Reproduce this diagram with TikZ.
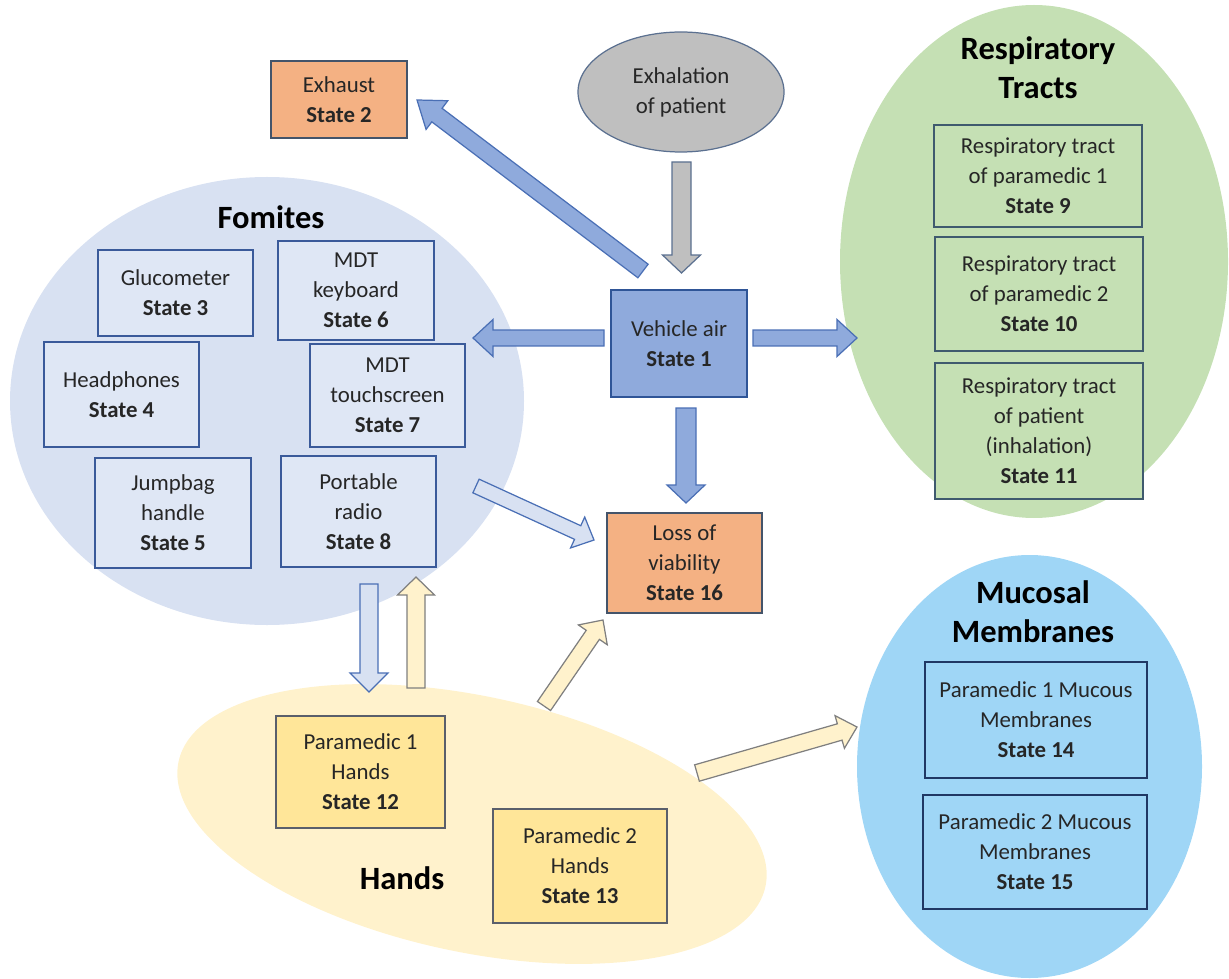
\documentclass[tikz,border=0pt]{standalone}
\usepackage{fontspec}
\setmainfont{Carlito}
\usetikzlibrary{calc,shapes.geometric}
\definecolor{fomfill}{HTML}{D8E1F2}
\definecolor{fomboxfill}{HTML}{DFE7F5}
\definecolor{fomline}{HTML}{3A5A9A}
\definecolor{respfill}{HTML}{C5E0B4}
\definecolor{respline}{HTML}{3F5A6E}
\definecolor{mucfill}{HTML}{9FD6F6}
\definecolor{mucline}{HTML}{203864}
\definecolor{handfill}{HTML}{FFF2CC}
\definecolor{handbox}{HTML}{FFE699}
\definecolor{handline}{HTML}{5A5F6B}
\definecolor{orangefill}{HTML}{F4B183}
\definecolor{orangeline}{HTML}{44546A}
\definecolor{airfill}{HTML}{8FAADC}
\definecolor{airline}{HTML}{2F5597}
\definecolor{grayfill}{HTML}{BFBFBF}
\definecolor{grayline}{HTML}{5B7090}
\definecolor{arrline}{HTML}{4A6FB5}
\definecolor{yarrline}{HTML}{7F7F7F}
\definecolor{txt}{HTML}{262626}
\newcommand\blockarrow[6]{%
  \coordinate (bahead) at ($(#3)!#6!(#2)$);
  \draw[#1] ($(#2)!#4!90:(#3)$) -- ($(bahead)!#4!90:(#3)$) -- ($(bahead)!#5!90:(#3)$) -- (#3)
    -- ($(bahead)!#5!-90:(#3)$) -- ($(bahead)!#4!-90:(#3)$) -- ($(#2)!#4!-90:(#3)$) -- cycle;
}
\begin{document}
\begin{tikzpicture}[x=0.02cm,y=-0.02cm,
  wh/.style 2 args={minimum width=#1*0.02cm, minimum height=#2*0.02cm},
  base/.style={rectangle, inner sep=0pt, align=center, text=txt, line width=0.7pt,
    font=\fontsize{13}{17}\selectfont},
  fombox/.style={base, fill=fomboxfill, draw=fomline},
  respbox/.style={base, fill=respfill, draw=respline},
  mucbox/.style={base, fill=mucfill, draw=mucline},
  handbx/.style={base, fill=handbox, draw=handline},
  orbox/.style={base, fill=orangefill, draw=orangeline},
  airbox/.style={base, fill=airfill, draw=airline},
  region/.style={ellipse, inner sep=0pt, draw=none},
  title/.style={align=center, font=\fontsize{18.5}{22}\selectfont\bfseries, text=black},
  barrow/.style={fill=airfill, draw=arrline, line width=0.7pt, line join=miter},
  garrow/.style={fill=grayfill, draw=grayline, line width=0.7pt},
  larrow/.style={fill=fomfill, draw=arrline, line width=0.7pt},
  yarrow/.style={fill=handfill, draw=yarrline, line width=0.7pt}
]
\useasboundingbox (0,0) rectangle (1229,979);
% regions
\node[region, fill=fomfill, wh={514}{448}] (fom) at (267,401) {};
\node[region, fill=respfill, wh={388}{513}] (resp) at (1034,261.5) {};
\node[region, fill=mucfill, wh={345}{423}] (muc) at (1029.5,766.5) {};
\node[region, fill=handfill, wh={600}{256}, rotate=-12] (hands) at (472,824) {};
\node[ellipse, inner sep=0pt, fill=grayfill, draw=grayline, line width=0.7pt, wh={206}{120},
  align=center, text=txt, font=\fontsize{13}{17}\selectfont] (exhal) at (681,92) {Exhalation\\of patient};
% titles
\node[title] (tfom) at (271,217) {Fomites};
\node[title] (tresp) at (1038,68) {Respiratory\\Tracts};
\node[title] (tmuc) at (1033,612) {Mucosal\\Membranes};
\node[title] (thand) at (402,878) {Hands};
% boxes
\node[orbox, wh={136}{77}] (exh) at (339,99.5) {Exhaust\\\textbf{State 2}};
\node[airbox, wh={136}{107}] (vair) at (679,343.5) {Vehicle air\\\textbf{State 1}};
\node[orbox, wh={155}{100}] (loss) at (684.5,563) {Loss of\\viability\\\textbf{State 16}};
\node[fombox, wh={155}{86}] (glu) at (175.5,293) {Glucometer\\\textbf{State 3}};
\node[fombox, wh={156}{99}] (kbd) at (356,290.5) {MDT\\keyboard\\\textbf{State 6}};
\node[fombox, wh={155}{105}] (head) at (121.5,394.5) {Headphones\\\textbf{State 4}};
\node[fombox, wh={155}{103}] (touch) at (387.5,395.5) {MDT\\touchscreen\\\textbf{State 7}};
\node[fombox, wh={156}{110}] (jump) at (173,513) {Jumpbag\\handle\\\textbf{State 5}};
\node[fombox, wh={155}{111}] (radio) at (358.5,511.5) {Portable\\radio\\\textbf{State 8}};
\node[respbox, wh={208}{102}] (r9) at (1038,176) {Respiratory tract\\of paramedic 1\\\textbf{State 9}};
\node[respbox, wh={208}{114}] (r10) at (1039,294) {Respiratory tract\\of paramedic 2\\\textbf{State 10}};
\node[respbox, wh={208}{136}] (r11) at (1039,431) {Respiratory tract\\of patient\\(inhalation)\\\textbf{State 11}};
\node[mucbox, wh={222}{116}] (m14) at (1036,720) {Paramedic 1 Mucous\\Membranes\\\textbf{State 14}};
\node[mucbox, wh={224}{114}] (m15) at (1035,852) {Paramedic 2 Mucous\\Membranes\\\textbf{State 15}};
\node[handbx, wh={169}{112}] (h12) at (360.5,772) {Paramedic 1\\Hands\\\textbf{State 12}};
\node[handbx, wh={174}{114}] (h13) at (580,866) {Paramedic 2\\Hands\\\textbf{State 13}};
% arrow ends
\coordinate (a1s) at (643,271);   \coordinate (a1e) at (417,100);
\coordinate (a2s) at (681.5,162); \coordinate (a2e) at (681.5,273);
\coordinate (a3s) at (604,338);   \coordinate (a3e) at (473,338);
\coordinate (a4s) at (753,338);   \coordinate (a4e) at (857,338);
\coordinate (a5s) at (686,408);   \coordinate (a5e) at (686,503);
\coordinate (a6s) at (476,486);   \coordinate (a6e) at (594,540);
\coordinate (a7s) at (369,584);   \coordinate (a7e) at (369,692);
\coordinate (a8s) at (416,688);   \coordinate (a8e) at (416,577);
\coordinate (a9s) at (544,706);   \coordinate (a9e) at (603,620);
\coordinate (a10s) at (697,773);  \coordinate (a10e) at (857,727);
% arrows
\blockarrow{barrow}{a1s}{a1e}{0.17cm}{0.36cm}{0.5cm}
\blockarrow{garrow}{a2s}{a2e}{0.19cm}{0.38cm}{0.36cm}
\blockarrow{barrow}{a3s}{a3e}{0.16cm}{0.37cm}{0.4cm}
\blockarrow{barrow}{a4s}{a4e}{0.16cm}{0.37cm}{0.4cm}
\blockarrow{barrow}{a5s}{a5e}{0.2cm}{0.38cm}{0.36cm}
\blockarrow{larrow}{a6s}{a6e}{0.15cm}{0.34cm}{0.36cm}
\blockarrow{larrow}{a7s}{a7e}{0.18cm}{0.38cm}{0.38cm}
\blockarrow{yarrow}{a8s}{a8e}{0.18cm}{0.37cm}{0.36cm}
\blockarrow{yarrow}{a9s}{a9e}{0.16cm}{0.35cm}{0.36cm}
\blockarrow{yarrow}{a10s}{a10e}{0.17cm}{0.34cm}{0.36cm}
\end{tikzpicture}
\end{document}
